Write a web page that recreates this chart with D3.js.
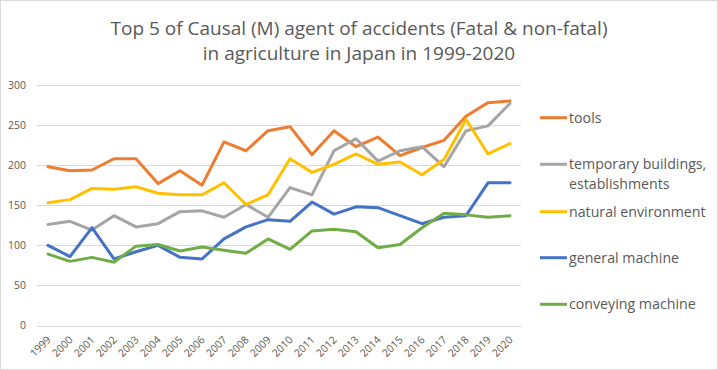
<!DOCTYPE html>
<html>
<head>
<meta charset="utf-8">
<script src="https://cdn.jsdelivr.net/npm/d3@7"></script>
<style>
  body { margin: 0; background: #fff; }
  svg { display: block; font-family: "Open Sans", "DejaVu Sans", sans-serif; }
</style>
</head>
<body>
<svg id="chart" width="718" height="370"></svg>
<script>
// data
const years = ["1999","2000","2001","2002","2003","2004","2005","2006","2007","2008","2009",
  "2010","2011","2012","2013","2014","2015","2016","2017","2018","2019","2020"];

const tools = [198,193,194,208,208,177,193,175,229,218,243,248,213,243,223,235,212,222,231,261,278,280];
const tempBuildings = [126,130,119,137,123,127,142,143,135,151,135,172,163,218,233,205,218,223,198,243,249,277];
const naturalEnv = [153,157,171,170,173,165,163,163,178,151,163,208,191,201,214,201,204,188,207,257,214,227];
const generalMachine = [100,86,122,83,92,100,85,83,108,123,132,130,154,139,148,147,137,127,135,137,178,178];
const conveyingMachine = [89,80,85,79,99,101,93,98,94,90,108,95,118,120,117,97,101,122,140,138,135,137];

const yTicks = [0, 50, 100, 150, 200, 250, 300];

const series = [
  { name: ["tools"], values: tools, color: "#ED7D31" },
  { name: ["temporary buildings,", "establishments"], values: tempBuildings, color: "#A5A5A5" },
  { name: ["natural environment"], values: naturalEnv, color: "#FFC000" },
  { name: ["general machine"], values: generalMachine, color: "#4472C4" },
  { name: ["conveying machine"], values: conveyingMachine, color: "#70AD47" }
];

const svg = d3.select("#chart");
const W = 718, H = 370;

// outer border
svg.append("rect")
  .attr("x", 0.5).attr("y", 0.5)
  .attr("width", W - 1).attr("height", H - 1)
  .attr("fill", "#fff")
  .attr("stroke", "#d9d9d9");

// title
const title = svg.append("text")
  .attr("text-anchor", "middle")
  .attr("fill", "#595959")
  .attr("font-size", 19);
title.append("tspan").attr("x", 359).attr("y", 35)
  .text("Top 5 of Causal (M) agent of accidents (Fatal & non-fatal)");
title.append("tspan").attr("x", 359).attr("y", 60)
  .text("in agriculture in Japan in 1999-2020");

// plot area
const plot = { left: 37, right: 521, top: 85, bottom: 325.5 };

const x = d3.scalePoint()
  .domain(years)
  .range([plot.left, plot.right])
  .padding(0.5);

const y = d3.scaleLinear()
  .domain([0, 300])
  .range([plot.bottom, plot.top]);

// gridlines
svg.append("g")
  .selectAll("line")
  .data(yTicks)
  .join("line")
  .attr("x1", plot.left)
  .attr("x2", plot.right)
  .attr("y1", d => Math.round(y(d)) + 0.5)
  .attr("y2", d => Math.round(y(d)) + 0.5)
  .attr("stroke", "#d9d9d9")
  .attr("stroke-width", 1);

// y axis labels
const yAxis = svg.append("g")
  .attr("transform", `translate(${plot.left - 11},0)`)
  .call(d3.axisLeft(y).tickValues(yTicks).tickSize(0).tickPadding(0));
yAxis.select(".domain").remove();
yAxis.selectAll("text")
  .attr("fill", "#595959")
  .attr("font-size", 10.5)
  .attr("font-family", "\"Open Sans\", sans-serif");

// x axis labels
const xAxis = svg.append("g")
  .attr("transform", `translate(0,${plot.bottom})`)
  .call(d3.axisBottom(x).tickSize(0).tickPadding(0));
xAxis.select(".domain").remove();
xAxis.selectAll("text")
  .attr("fill", "#595959")
  .attr("font-size", 10.5)
  .attr("font-family", "\"Open Sans\", sans-serif")
  .attr("text-anchor", "end")
  .attr("dy", null)
  .attr("transform", "translate(3,15) rotate(-45)");

// lines
const line = d3.line()
  .x((d, i) => x(years[i]))
  .y(d => y(d));

svg.append("g")
  .selectAll("path")
  .data(series)
  .join("path")
  .attr("d", d => line(d.values))
  .attr("fill", "none")
  .attr("stroke", d => d.color)
  .attr("stroke-width", 3)
  .attr("stroke-linejoin", "round")
  .attr("stroke-linecap", "round");

// legend
const legendY = [117.7, 164.3, 211.7, 257.7, 304.3];
const legend = svg.append("g")
  .selectAll("g")
  .data(series)
  .join("g")
  .attr("transform", (d, i) => `translate(540,${legendY[i]})`);

legend.append("line")
  .attr("x1", 0).attr("x2", 27)
  .attr("stroke", d => d.color)
  .attr("stroke-width", 3);

legend.append("text")
  .attr("fill", "#595959")
  .attr("font-size", 14.2)
  .selectAll("tspan")
  .data(d => d.name)
  .join("tspan")
  .attr("x", 29)
  .attr("y", (d, i) => 5 + i * 19.5)
  .text(d => d);
</script>
</body>
</html>
